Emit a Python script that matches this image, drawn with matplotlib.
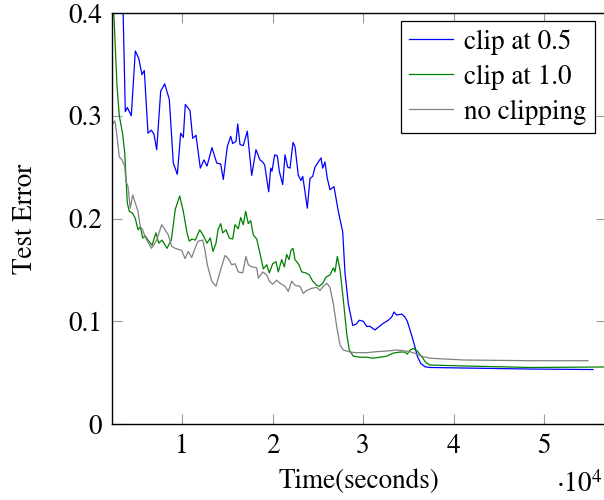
import matplotlib
matplotlib.use("Agg")
import matplotlib.pyplot as plt

plt.rcParams['font.family'] = ['STIXGeneral', 'DejaVu Sans']
plt.rcParams['mathtext.fontset'] = 'stix'
plt.rcParams['font.size'] = 19.5

# clip at 0.5
t_clip05 = [3378, 3742, 3963, 4404, 4846, 5221, 5585, 5839, 6248, 6612, 6910, 7208,
            7649, 8091, 8599, 9040, 9482, 9857, 10144, 10365, 10884, 11182, 11546,
            12021, 12429, 12760, 13312, 13831, 14272, 14559, 15000, 15376, 15597,
            15961, 16149, 16403, 16767, 17208, 17694, 18169, 18610, 18908, 19129,
            19570, 19791, 19935, 20233, 20520, 20741, 21116, 21370, 21668, 21922,
            22253, 22474, 22838, 23136, 23324, 23545, 23832, 24129, 24427, 24681,
            25046, 25343, 25531, 25785, 26039, 26337, 26778, 27253, 27739, 27993,
            28357, 28843, 29207, 29571, 30013, 30388, 30752, 31304, 31779, 32221,
            32773, 33148, 33401, 33699, 34251, 34615, 34869, 35167, 35609, 35973,
            36349, 36823, 37375, 41017, 48413, 55367]
err_clip05 = [0.45, 0.304, 0.308, 0.300, 0.363, 0.356, 0.340, 0.344, 0.283, 0.286,
              0.282, 0.267, 0.324, 0.331, 0.316, 0.254, 0.243, 0.283, 0.279, 0.311,
              0.305, 0.278, 0.281, 0.249, 0.257, 0.251, 0.269, 0.254, 0.253, 0.238,
              0.270, 0.280, 0.273, 0.275, 0.292, 0.272, 0.271, 0.285, 0.242, 0.267,
              0.257, 0.255, 0.252, 0.226, 0.249, 0.246, 0.262, 0.261, 0.246, 0.233,
              0.262, 0.250, 0.249, 0.274, 0.270, 0.242, 0.237, 0.241, 0.228, 0.210,
              0.239, 0.241, 0.250, 0.255, 0.259, 0.249, 0.255, 0.239, 0.228, 0.231,
              0.207, 0.187, 0.147, 0.117, 0.096, 0.097, 0.101, 0.100, 0.095, 0.095,
              0.0915, 0.095, 0.098, 0.101, 0.104, 0.109, 0.106, 0.107, 0.104, 0.100,
              0.0915, 0.0785, 0.066, 0.059, 0.0557, 0.055, 0.0545, 0.0535, 0.053]

# clip at 1.0
t_clip10 = [2274, 2826, 3080, 3455, 3676, 3963, 4184, 4559, 4846, 5144, 5398, 5663,
            5950, 6248, 6689, 7131, 7429, 7793, 8345, 8819, 9261, 9747, 10144, 10553,
            10806, 11104, 11469, 11954, 12319, 12760, 13124, 13422, 13754, 13974,
            14272, 14493, 14857, 15221, 15597, 15851, 16215, 16480, 16767, 17032,
            17319, 17584, 17871, 18246, 18610, 18975, 19350, 19637, 20012, 20376,
            20630, 21005, 21292, 21557, 21811, 22032, 22253, 22474, 22915, 23213,
            23688, 24052, 24427, 24868, 25156, 25531, 25895, 26337, 26701, 26889,
            27142, 27441, 27805, 28180, 28467, 28909, 29648, 30388, 31117, 31857,
            32596, 33325, 34063, 34615, 34869, 35167, 35532, 35973, 36459, 36933,
            37375, 41017, 48413, 56800]
err_clip10 = [0.44, 0.329, 0.300, 0.282, 0.264, 0.215, 0.207, 0.205, 0.200, 0.189,
              0.192, 0.181, 0.183, 0.179, 0.174, 0.186, 0.176, 0.179, 0.171, 0.179,
              0.209, 0.222, 0.207, 0.186, 0.178, 0.180, 0.179, 0.189, 0.184, 0.176,
              0.181, 0.168, 0.176, 0.189, 0.195, 0.186, 0.189, 0.181, 0.180, 0.194,
              0.190, 0.201, 0.194, 0.207, 0.195, 0.198, 0.184, 0.180, 0.166, 0.151,
              0.155, 0.147, 0.156, 0.158, 0.148, 0.160, 0.153, 0.165, 0.160, 0.169,
              0.171, 0.160, 0.155, 0.148, 0.147, 0.145, 0.139, 0.135, 0.134, 0.137,
              0.143, 0.145, 0.152, 0.148, 0.163, 0.150, 0.121, 0.088, 0.072, 0.066,
              0.065, 0.065, 0.064, 0.065, 0.066, 0.069, 0.070, 0.070, 0.068, 0.072,
              0.0735, 0.071, 0.0655, 0.0597, 0.0574, 0.0565, 0.055, 0.0555]

# no clipping
t_noclip = [2274, 2572, 2638, 2826, 3080, 3378, 3676, 3819, 4040, 4294, 4559, 4846,
            5144, 5398, 5663, 5883, 6248, 6612, 6877, 7208, 7760, 8124, 8488, 8864,
            9228, 9967, 10332, 10696, 11071, 11436, 11800, 12285, 12539, 12793, 13279,
            13754, 14195, 14747, 15111, 15487, 15851, 16215, 16700, 17065, 17319,
            17694, 18246, 18423, 18908, 19350, 19637, 20012, 20454, 20818, 21370,
            21734, 22109, 22474, 23025, 23390, 23765, 24317, 24868, 25233, 25597,
            25972, 26337, 26701, 27076, 27441, 27805, 28544, 29284, 30388, 31492,
            32596, 33699, 34428, 35167, 35907, 36636, 37375, 41051, 48413, 54815]
err_noclip = [0.291, 0.295, 0.293, 0.280, 0.260, 0.257, 0.251, 0.236, 0.231, 0.210,
              0.223, 0.215, 0.207, 0.192, 0.189, 0.183, 0.177, 0.171, 0.174, 0.179,
              0.194, 0.189, 0.184, 0.173, 0.171, 0.169, 0.161, 0.168, 0.162, 0.171,
              0.178, 0.179, 0.169, 0.155, 0.139, 0.134, 0.148, 0.164, 0.161, 0.155,
              0.156, 0.148, 0.147, 0.163, 0.155, 0.153, 0.152, 0.142, 0.148, 0.145,
              0.139, 0.136, 0.140, 0.137, 0.134, 0.129, 0.139, 0.135, 0.134, 0.127,
              0.130, 0.132, 0.133, 0.130, 0.134, 0.137, 0.133, 0.117, 0.095, 0.077,
              0.072, 0.070, 0.0694, 0.0694, 0.0704, 0.071, 0.072, 0.0713, 0.0704,
              0.068, 0.0655, 0.064, 0.0623, 0.0616, 0.0616]

x_ticks = [10000, 20000, 30000, 40000, 50000]
x_ticklabels = ['1', '2', '3', '4', '5']
y_ticks = [0, 0.1, 0.2, 0.3, 0.4]
y_ticklabels = ['0', '0.1', '0.2', '0.3', '0.4']

fig = plt.figure(figsize=(6.04, 5.0), dpi=100)
ax = fig.add_axes([112 / 604, 76 / 500, 494 / 604, 411 / 500])

ax.plot(t_clip05, err_clip05, color='blue', lw=0.9, label='clip at 0.5')
ax.plot(t_clip10, err_clip10, color='green', lw=0.9, label='clip at 1.0')
ax.plot(t_noclip, err_noclip, color='gray', lw=0.9, label='no clipping')

ax.set_xlim(2274, 56802)
ax.set_ylim(0, 0.4)
ax.set_xticks(x_ticks)
ax.set_xticklabels(x_ticklabels)
ax.set_yticks(y_ticks)
ax.set_yticklabels(y_ticklabels)
ax.tick_params(direction='in', length=7, width=0.8, color='#999999',
               top=True, right=True)
ax.tick_params(axis='x', pad=7)
ax.tick_params(axis='y', pad=7)
for s in ax.spines.values():
    s.set_linewidth(1.0)

ax.set_xlabel('Time(seconds)')
ax.set_ylabel('Test Error')
ax.xaxis.set_label_coords(0.5, -0.108)
ax.yaxis.set_label_coords(-0.15, 0.5)
ax.text(0.945, -0.148, r'$\cdot 10^4$', transform=ax.transAxes,
        ha='center', va='center')

leg = ax.legend(loc='upper right', bbox_to_anchor=(0.9777, 0.9805),
                borderaxespad=0, fancybox=False, framealpha=1,
                edgecolor='black', handlelength=1.63, handletextpad=0.4,
                borderpad=0.3, labelspacing=0.36)
leg.get_frame().set_linewidth(0.9)

fig.savefig('out.png', dpi=100)
